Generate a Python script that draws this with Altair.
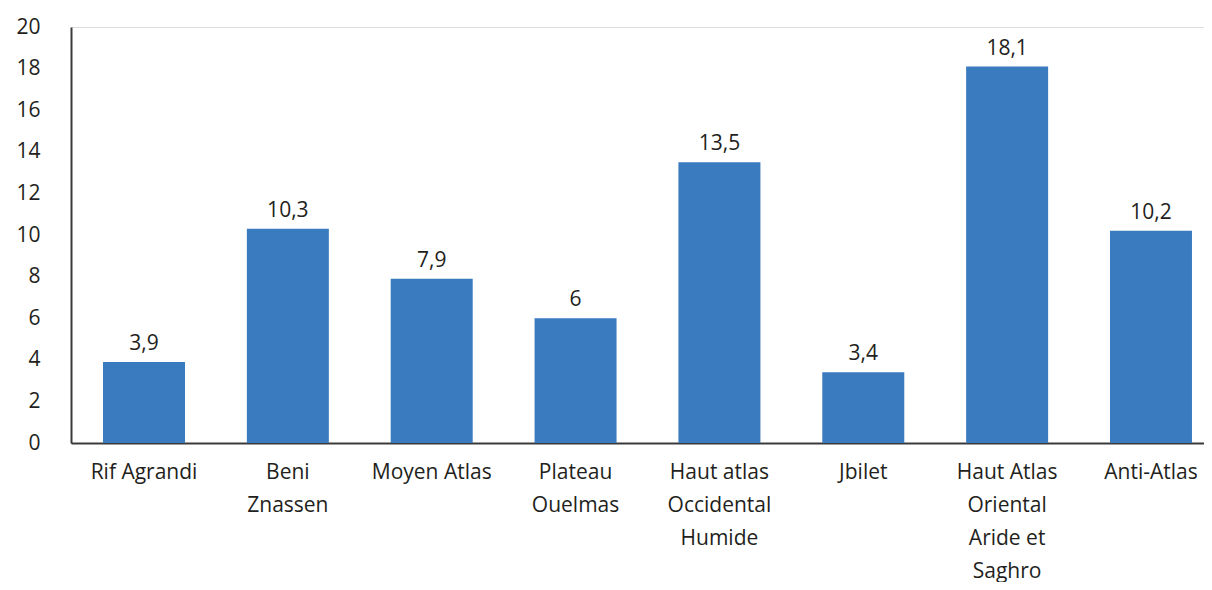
import altair as alt
import pandas as pd

categories = [
    "Rif Agrandi",
    "Beni|Znassen",
    "Moyen Atlas",
    "Plateau|Ouelmas",
    "Haut atlas|Occidental|Humide",
    "Jbilet",
    "Haut Atlas|Oriental|Aride et|Saghro",
    "Anti-Atlas",
]
values = [3.9, 10.3, 7.9, 6, 13.5, 3.4, 18.1, 10.2]
y_ticks = [0, 2, 4, 6, 8, 10, 12, 14, 16, 18, 20]

df = pd.DataFrame({"region": categories, "value": values})

FONT = "Open Sans"
TXT = "#231f20"
BAR = "#3a7bbf"
FS = 21

x = alt.X(
    "region:N",
    sort=None,
    title=None,
    scale=alt.Scale(paddingInner=0.43, paddingOuter=0.153, align=0.727),
    axis=alt.Axis(
        labelAngle=0,
        labelExpr="split(datum.label, '|')",
        labelFont=FONT,
        labelFontSize=FS,
        labelColor=TXT,
        labelLineHeight=33,
        labelPadding=18,
        labelBaseline="top",
        ticks=False,
        grid=False,
        domainColor="#3a3a3a",
        domainWidth=2,
        labelLimit=300,
    ),
)
y = alt.Y(
    "value:Q",
    title=None,
    scale=alt.Scale(domain=[0, 20], nice=False),
    axis=alt.Axis(
        values=y_ticks,
        grid=False,
        ticks=False,
        labelFont=FONT,
        labelFontSize=FS,
        labelColor=TXT,
        labelPadding=31,
        domainColor="#3a3a3a",
        domainWidth=2,
    ),
)

base = alt.Chart(df).encode(x=x, y=y)

bars = base.mark_bar(color=BAR)
labels = base.transform_calculate(
    lab="replace(format(datum.value, '.1~f'), '.', ',')"
).mark_text(
    font=FONT, fontSize=FS, color=TXT, baseline="alphabetic", dy=-12
).encode(text="lab:N")

chart = (
    (bars + labels)
    .properties(
        width=1133,
        height=416,
        autosize=alt.AutoSizeParams(type="none"),
        padding={"left": 63, "top": 19, "right": 0, "bottom": 139},
    )
    .configure_view(stroke="#ffffff", strokeWidth=0, strokeOpacity=0, fill="#ffffff")
    .configure_axis(grid=False, gridOpacity=0, gridColor="#ffffff")
    .configure(background="white")
)

chart.save("out.html", embed_options={"renderer": "svg", "actions": False})
